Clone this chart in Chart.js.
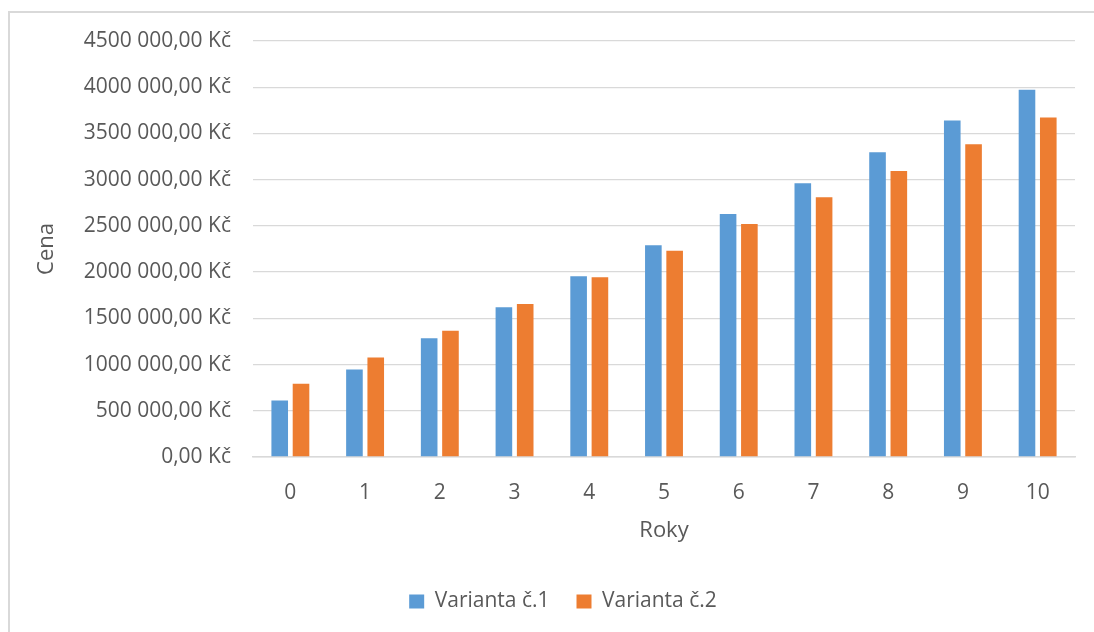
<!DOCTYPE html>
<html>
<head>
<meta charset="utf-8">
<script src="https://cdn.jsdelivr.net/npm/chart.js@4.4.1/dist/chart.umd.min.js"></script>
<style>
  html, body { margin: 0; padding: 0; background: #ffffff; }
  #frame {
    position: absolute; left: 8px; top: 11px; width: 1200px; height: 700px;
    border-left: 2px solid #d9d9d9; border-top: 2px solid #d9d9d9;
  }
  #chart { position: absolute; left: 0; top: 0; }
</style>
</head>
<body>
<div id="frame"></div>
<canvas id="chart" width="1094" height="632"></canvas>
<script>
// Roky (years) on the category axis
const years = ['0', '1', '2', '3', '4', '5', '6', '7', '8', '9', '10'];

// Cena v Kč for each variant
const varianta1 = [611000, 946000, 1285000, 1620000, 1955000, 2290000, 2628000, 2962000, 3297000, 3640000, 3974000];
const varianta2 = [792000, 1076000, 1367000, 1656000, 1944000, 2231000, 2520000, 2811000, 3095000, 3384000, 3672000];

// Value-axis tick labels, bottom to top
const yTickLabels = [
  '0,00 Kč', '500 000,00 Kč', '1000 000,00 Kč', '1500 000,00 Kč', '2000 000,00 Kč',
  '2500 000,00 Kč', '3000 000,00 Kč', '3500 000,00 Kč', '4000 000,00 Kč', '4500 000,00 Kč'
];

const seriesNames = ['Varianta č.1', 'Varianta č.2'];
const seriesColors = ['#5b9bd5', '#ed7d31'];

const textColor = '#595959';
const gridColor = '#d9d9d9';
const fontFamily = '"Open Sans", "Noto Sans", sans-serif';

new Chart(document.getElementById('chart'), {
  type: 'bar',
  data: {
    labels: years,
    datasets: [
      { label: seriesNames[0], data: varianta1, backgroundColor: seriesColors[0], borderWidth: 0 },
      { label: seriesNames[1], data: varianta2, backgroundColor: seriesColors[1], borderWidth: 0 }
    ]
  },
  options: {
    responsive: false,
    devicePixelRatio: 1,
    animation: false,
    categoryPercentage: 0.57,
    barPercentage: 0.78,
    layout: { padding: { left: 51, right: 19, top: 41, bottom: 10 } },
    plugins: {
      tooltip: { enabled: false },
      legend: {
        position: 'bottom',
        labels: {
          color: textColor,
          font: { family: fontFamily, size: 21 },
          boxWidth: 15,
          boxHeight: 14,
          padding: 27
        }
      }
    },
    scales: {
      x: {
        grid: { display: false },
        border: { display: true, color: gridColor, width: 1.5 },
        ticks: { color: textColor, font: { family: fontFamily, size: 21 }, padding: 15 },
        title: {
          display: true, text: 'Roky', color: textColor,
          font: { family: fontFamily, size: 22 },
          padding: { top: 0, bottom: 20 }
        },
        afterFit: (scale) => { scale.height = 107; }
      },
      y: {
        min: 0,
        max: 4500000,
        grid: { color: gridColor, lineWidth: 1.3, drawTicks: false },
        border: { display: false },
        ticks: {
          stepSize: 500000,
          color: textColor,
          font: { family: fontFamily, size: 21 },
          padding: 22,
          callback: (value, index) => yTickLabels[index]
        },
        title: {
          display: true, text: 'Cena', color: textColor,
          font: { family: fontFamily, size: 22 },
          padding: { top: -17, bottom: 0 }
        },
        afterFit: (scale) => { scale.width = 202; }
      }
    }
  }
});
</script>
</body>
</html>
